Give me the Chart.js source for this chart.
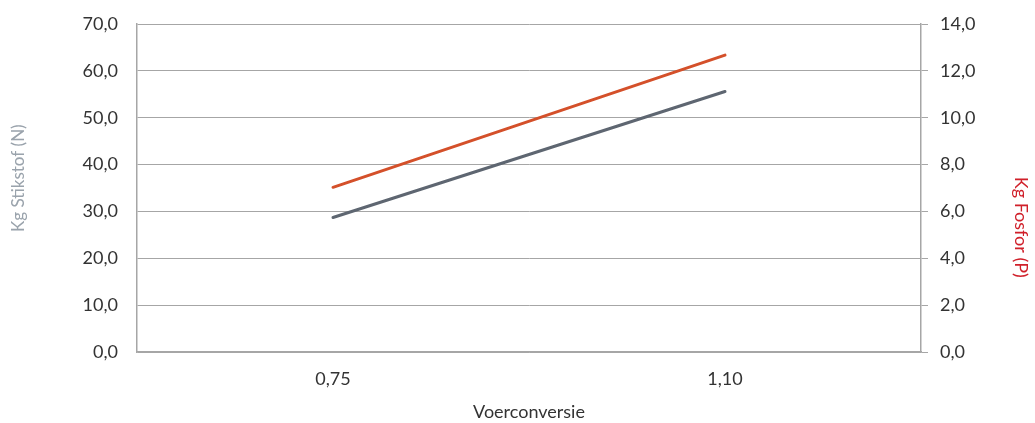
<!DOCTYPE html>
<html>
<head>
<meta charset="utf-8">
<script src="https://cdn.jsdelivr.net/npm/chart.js@4.4.0/dist/chart.umd.min.js"></script>
<style>
  html, body { margin: 0; padding: 0; background: #fff; }
  #wrap { width: 1035px; height: 423px; }
</style>
</head>
<body>
<div id="wrap"><canvas id="chart" width="1035" height="423"></canvas></div>
<script>
// Data
const categories = ["0,75", "1,10"];
const nitrogen = [28.7, 55.6];   // Kg Stikstof (N), left axis
const phosphorus = [7.03, 12.67]; // Kg Fosfor (P), right axis
const leftTicks = [0, 10, 20, 30, 40, 50, 60, 70];
const rightTicks = [0, 2, 4, 6, 8, 10, 12, 14];

const FONT = "'Lato', 'Open Sans', sans-serif";
const fmt = v => v.toFixed(1).replace(".", ","); // comma decimals

// The y-axis titles sit a bit off-centre in the original, so draw them by hand
const axisTitles = {
  id: "axisTitles",
  afterDraw(chart) {
    const c = chart.ctx;
    const area = chart.chartArea;
    c.save();
    c.font = "17px " + FONT;
    c.textAlign = "center";
    c.textBaseline = "middle";
    // left title, reads bottom to top
    c.fillStyle = "#9aa3ac";
    c.translate(19, area.top + (area.bottom - area.top) * 0.47);
    c.rotate(-Math.PI / 2);
    c.fillText("Kg Stikstof (N)", 0, 0);
    c.restore();
    c.save();
    c.font = "18px " + FONT;
    c.textAlign = "center";
    c.textBaseline = "middle";
    // right title, reads top to bottom
    c.fillStyle = "#d0202a";
    c.translate(1021, area.top + (area.bottom - area.top) * 0.62);
    c.rotate(Math.PI / 2);
    c.fillText("Kg Fosfor (P)", 0, 0);
    c.restore();
  }
};

// fix the box sizes so the plot area lands where it does in the original
const fitY = w => s => {
  s.width = w;
  s.paddingTop = 0;
  s.paddingBottom = 0;
};

const ctx = document.getElementById("chart");

new Chart(ctx, {
  type: "line",
  data: {
    labels: categories,
    datasets: [
      {
        label: "Kg Stikstof (N)",
        data: nitrogen,
        yAxisID: "yN",
        borderColor: "#5e6671",
        borderWidth: 3,
        pointRadius: 0,
        borderCapStyle: "round",
        tension: 0
      },
      {
        label: "Kg Fosfor (P)",
        data: phosphorus,
        yAxisID: "yP",
        borderColor: "#d4502a",
        borderWidth: 3,
        pointRadius: 0,
        borderCapStyle: "round",
        tension: 0
      }
    ]
  },
  options: {
    responsive: false,
    animation: false,
    devicePixelRatio: 1,
    layout: { padding: { top: 24, left: 0, right: 0, bottom: 0 } },
    plugins: {
      legend: { display: false },
      tooltip: { enabled: false }
    },
    scales: {
      x: {
        offset: true,
        grid: { display: false, drawTicks: false },
        border: { display: true, color: "#a6a6a6", width: 1.5 },
        ticks: { color: "#333", font: { family: FONT, size: 18 }, padding: 16 },
        title: {
          display: true,
          text: "Voerconversie",
          color: "#333",
          font: { family: FONT, size: 18 },
          padding: { top: 13, bottom: 0 }
        },
        afterFit: s => {
          s.height = 71;
          s.paddingLeft = 0;
          s.paddingRight = 0;
        }
      },
      yN: {
        position: "left",
        min: 0,
        max: 70,
        afterBuildTicks: s => { s.ticks = leftTicks.map(v => ({ value: v })); },
        grid: { color: "#a6a6a6", lineWidth: 1, drawTicks: false },
        border: { display: true, color: "#a6a6a6", width: 1.5 },
        ticks: { color: "#333", font: { family: FONT, size: 18 }, padding: 19, callback: v => fmt(v) },
        afterFit: fitY(137)
      },
      yP: {
        position: "right",
        min: 0,
        max: 14,
        afterBuildTicks: s => { s.ticks = rightTicks.map(v => ({ value: v })); },
        grid: { drawOnChartArea: false, color: "#a6a6a6", tickLength: 7 },
        border: { display: true, color: "#a6a6a6", width: 1.5 },
        ticks: { color: "#333", font: { family: FONT, size: 18 }, padding: 12, callback: v => fmt(v) },
        afterFit: fitY(114)
      }
    }
  },
  plugins: [axisTitles]
});
</script>
</body>
</html>
